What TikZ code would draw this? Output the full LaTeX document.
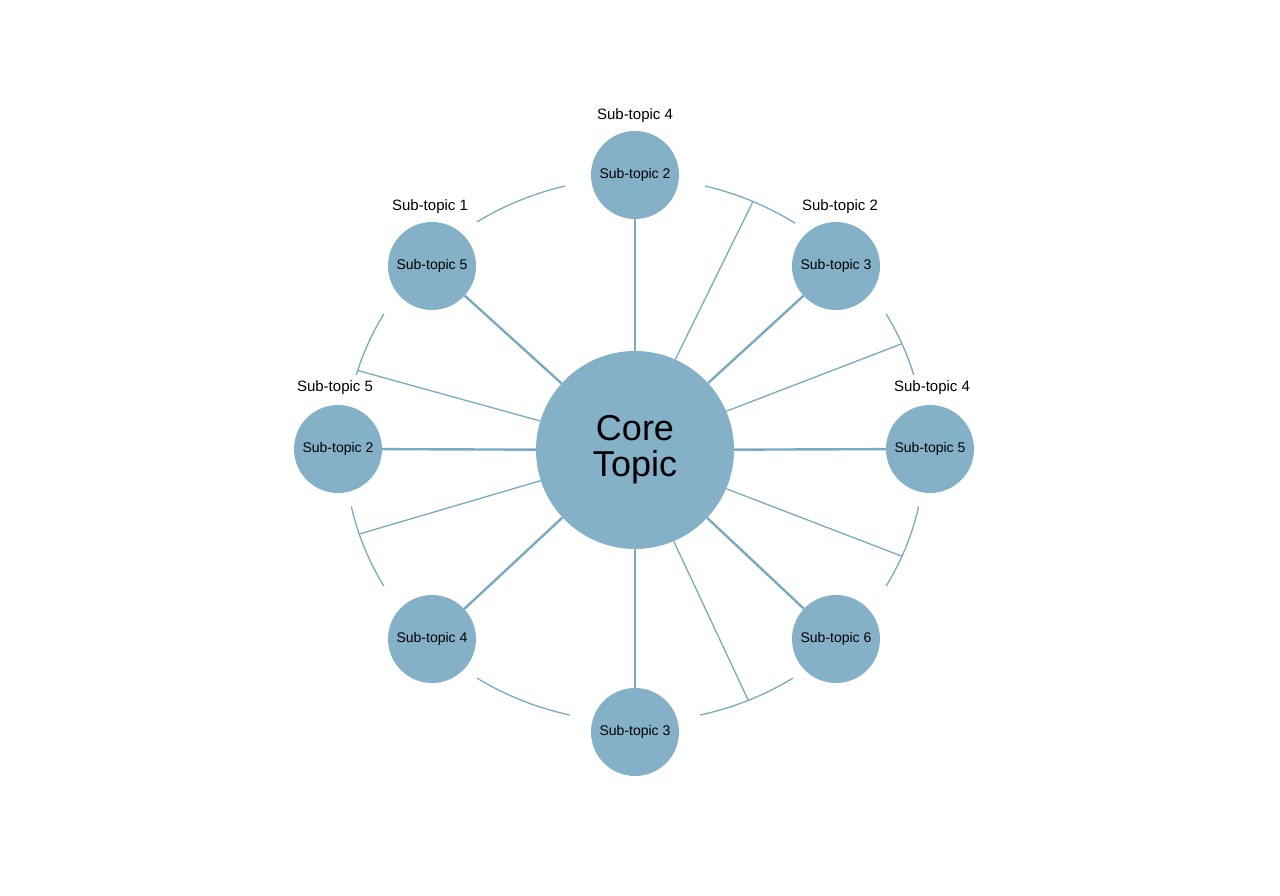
\documentclass[tikz,border=0pt]{standalone}
\usepackage{fontspec}
\usetikzlibrary{calc}
\setmainfont{Liberation Sans}
\definecolor{fillc}{HTML}{84B0C8}
\definecolor{linec}{HTML}{7AAABF}
\begin{document}
\begin{tikzpicture}[x=1pt,y=1pt,
  sat/.style={circle,fill=fillc,minimum size=88pt,inner sep=0pt,font=\fontsize{14}{16}\selectfont},
  core/.style={circle,fill=fillc,minimum size=198pt,inner sep=0pt,align=center,font=\fontsize{36}{36}\selectfont},
  spoke/.style={draw=linec,line width=2.4pt},
  thin/.style={draw=linec,line width=1.3pt},
  lab/.style={font=\fontsize{15}{17}\selectfont}]
\useasboundingbox (0,0) rectangle (1280,896);
\coordinate (c) at (635,446);
\node[core] (core) at (c) {Core\\Topic};
\node[sat] (t) at (635,721) {Sub-topic 2};
\node[sat] (tr) at (836,630) {Sub-topic 3};
\node[sat] (r) at (930,447) {Sub-topic 5};
\node[sat] (br) at (836,257) {Sub-topic 6};
\node[sat] (b) at (635,164) {Sub-topic 3};
\node[sat] (bl) at (432,257) {Sub-topic 4};
\node[sat] (l) at (338,447) {Sub-topic 2};
\node[sat] (tl) at (432,630) {Sub-topic 5};
\node[lab] (lt) at (635,780) {Sub-topic 4};
\node[lab] (ltl) at (430,689) {Sub-topic 1};
\node[lab] (ltr) at (840,689) {Sub-topic 2};
\node[lab] (ll) at (335,508) {Sub-topic 5};
\node[lab] (lr) at (932,508) {Sub-topic 4};
\foreach \n in {t,tr,r,br,b,bl,l,tl} \draw[spoke] (core) -- (\n);
\foreach \a/\b in {123/104,76/56.5,30/16,-12/-30,-57/-77,-103/-123,-150/-168,164/150}
  \draw[thin] ($(c)+(\a:290 and 272)$) arc[start angle=\a,end angle=\b,x radius=290,y radius=272];
\foreach \a in {66,23,-23,-67,163,-162}
  \draw[thin] (core.\a) -- ($(c)+(\a:290 and 272)$);
\end{tikzpicture}
\end{document}
